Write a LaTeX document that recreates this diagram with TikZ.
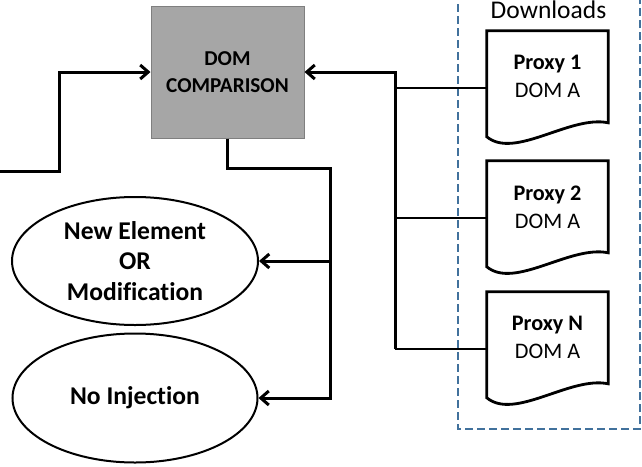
\documentclass[tikz,border=0pt]{standalone}
\usepackage{fontspec}
\setmainfont{Carlito}[Ligatures=NoCommon]
\usetikzlibrary{shapes.geometric,arrows.meta}
\definecolor{boxfill}{HTML}{A6A6A6}
\definecolor{boxline}{HTML}{7F7F7F}
\definecolor{dashblue}{RGB}{65,113,156}
\tikzset{
  conn/.style={line width=3pt, line join=miter},
  branch/.style={line width=2.4pt},
  arr/.style={-{Straight Barb[length=8pt,width=14pt]}},
  dombox/.style={rectangle, draw=boxline, fill=boxfill, line width=1pt,
    minimum width=153pt, minimum height=132pt, inner sep=0pt, align=center,
    font=\fontsize{21.2}{27}\selectfont\bfseries},
  oval/.style={ellipse, draw, line width=2pt, inner sep=0pt, align=center,
    font=\fontsize{25.6}{30.5}\selectfont\bfseries},
  docnode/.style={rectangle, minimum width=121pt, minimum height=114pt, inner sep=0pt},
  doctext/.style={align=center, inner sep=0pt, font=\fontsize{22.2}{28}\selectfont},
  docline/.style={line width=2.8pt, line join=miter},
  dlbox/.style={dashed, dash pattern=on 8pt off 4pt, draw=dashblue, line width=2.2pt},
}
\newcommand\drawdoc[1]{%
  \draw[docline] (#1.north west) -- (#1.north east) -- ([shift={(0,92)}]#1.north east)
    .. controls ([shift={(-38,84)}]#1.north east) and ([shift={(28,129)}]#1.north west)
    .. ([shift={(0,106)}]#1.north west) -- cycle;}
\begin{document}
\begin{tikzpicture}[x=1pt,y=-1pt]
\useasboundingbox (0,0) rectangle (642,466);
\clip (0,0) rectangle (642,466);
% dashed group
\draw[dlbox] (458,-20) rectangle (640,429);
\node[font=\fontsize{25.5}{28}\selectfont, inner sep=0pt] (dl) at (548.5,10) {Downloads};
% main box
\node[dombox] (dom) at (227.5,72) {DOM\\COMPARISON};
% documents
\node[docnode] (p1) at (547.5,88) {};
\node[docnode] (p2) at (547.5,218) {};
\node[docnode] (pn) at (547.5,349) {};
\drawdoc{p1}\drawdoc{p2}\drawdoc{pn}
\node[doctext] (p1t) at ([shift={(0,46)}]p1.north) {\textbf{Proxy 1}\\DOM A};
\node[doctext] (p2t) at ([shift={(0,46)}]p2.north) {\textbf{Proxy 2}\\DOM A};
\node[doctext] (pnt) at ([shift={(0,46)}]pn.north) {\textbf{Proxy N}\\DOM A};
% ellipses
\node[oval, minimum width=246pt, minimum height=128pt] (ne) at (135,261) {New Element\\OR\\Modification};
\node[oval, minimum width=245pt, minimum height=129pt] (ni) at (135,398) {No Injection};
% coordinates
\coordinate (tr) at (395,72);
\coordinate (in) at (0,171);
\coordinate (ib) at (59,171);
\coordinate (j) at (330,168);
% connectors
\draw[branch] (p1.west) -- (p1.west -| tr);
\draw[branch] (p2.west) -- (p2.west -| tr);
\draw[branch] (pn.west) -- (pn.west -| tr);
\draw[conn,arr] (pn.west -| tr) -- (tr) -- (dom.east);
\draw[conn,arr] (in) -- (ib) |- (dom.west);
\draw[conn,arr] (dom.south) |- (j) |- (ni.east);
\draw[conn,arr] (j |- ne.east) -- (ne.east);
\end{tikzpicture}
\end{document}
